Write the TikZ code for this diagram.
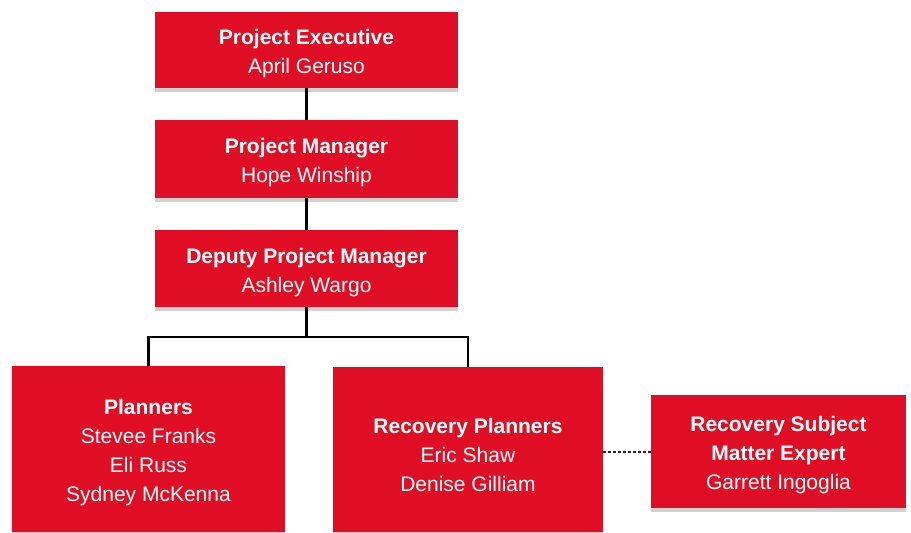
\documentclass[tikz,border=0pt]{standalone}
\usepackage{fontspec}
\setmainfont{Liberation Sans}
\usetikzlibrary{shadows}
\definecolor{boxred}{RGB}{224,14,36}
\begin{document}
\begin{tikzpicture}[x=1pt,y=-1pt,
  orgbox/.style={fill=boxred, inner sep=0pt,
    drop shadow={shadow xshift=0pt, shadow yshift=-4pt, fill=black, opacity=0.18}},
  wide/.style={orgbox, minimum width=303pt},
  boxtext/.style={text=white, align=center, inner sep=0pt,
    font=\fontsize{21}{29}\selectfont},
  link/.style={draw=black, line width=2.2pt},
  dotted link/.style={draw=black!85, line width=2pt, dash pattern=on 3pt off 2pt}]
\useasboundingbox (0,0) rectangle (911,533);

% top chain
\node[wide, minimum height=76pt] (exec) at (306.5,50) {};
\node[wide, minimum height=78pt] (pm) at (306.5,159) {};
\node[wide, minimum height=77pt] (dpm) at (306.5,268.5) {};

% teams
\node[orgbox, minimum width=273pt, minimum height=166pt] (plan) at (148.5,449) {};
\node[orgbox, minimum width=270pt, minimum height=165pt] (rec) at (468,449.5) {};
\node[orgbox, minimum width=255pt, minimum height=113pt] (sme) at (778.5,451.5) {};

% labels, set a little below each box centre
\node[boxtext] (exec-t) at ([yshift=-4pt]exec.center)
  {\textbf{Project Executive}\\April Geruso};
\node[boxtext] (pm-t) at ([yshift=-4pt]pm.center)
  {\textbf{Project Manager}\\Hope Winship};
\node[boxtext] (dpm-t) at ([yshift=-4pt]dpm.center)
  {\textbf{Deputy Project Manager}\\Ashley Wargo};
\node[boxtext] (plan-t) at ([yshift=-4pt]plan.center)
  {\textbf{Planners}\\Stevee Franks\\Eli Russ\\Sydney McKenna};
\node[boxtext] (rec-t) at ([yshift=-5pt]rec.center)
  {\textbf{Recovery Planners}\\Eric Shaw\\Denise Gilliam};
\node[boxtext] (sme-t) at ([yshift=-4pt]sme.center)
  {\textbf{Recovery Subject}\\\textbf{Matter Expert}\\Garrett Ingoglia};

% connectors
\draw[link] (exec.south) -- (pm.north);
\draw[link] (pm.south) -- (dpm.north);
\coordinate (split) at (306.5,337);
\draw[link] (dpm.south) -- (split);
\draw[link] (plan.north) |- (split) -| (rec.north);
\draw[dotted link] (rec.east |- sme.west) -- (sme.west);
\end{tikzpicture}
\end{document}
